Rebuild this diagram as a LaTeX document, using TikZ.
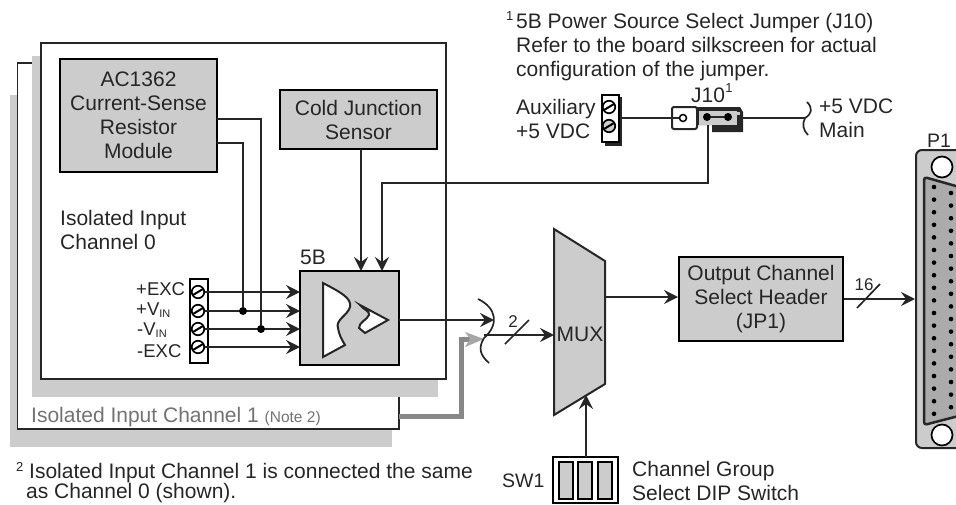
\documentclass[tikz,border=0pt]{standalone}
\usepackage{fontspec}
\setmainfont{Liberation Sans}
\usetikzlibrary{arrows.meta}
\definecolor{boxgray}{HTML}{CCCCCC}
\definecolor{wiregray}{HTML}{888888}
\tikzset{
	every node/.style={inner sep=0pt, font=\fontsize{21}{24}\selectfont, align=center, text=black!85}
}
\tikzset{
	graybox/.style={draw, fill=boxgray, line width=2pt},
	lbl/.style={anchor=west, align=left},
	termlbl/.style={anchor=west, font=\fontsize{18.5}{24}\selectfont},
	wire/.style={line width=1.7pt, black!85},
	tip/.style={-{Stealth[length=14pt,width=14pt,inset=5pt]}},
	screw/.style={circle, draw, fill=white, line width=1.7pt, minimum size=12.5pt},
	dot/.style={circle, fill=black, minimum size=8pt},
	hole/.style={circle, draw, fill=white, line width=1.7pt, minimum size=21pt}
}
\begin{document}
\begin{tikzpicture}[x=1pt, y=-1pt]
	\useasboundingbox (0,0) rectangle (956,504);
	\fill [boxgray] (10,95) rectangle (392,447);
	\draw [wire, fill=white] (399,63) rectangle (17.5,429);
	\fill [boxgray] (32,56) rectangle (438,397);
	\draw [line width=2pt, black!85, fill=white] (41,43) rectangle (446,379);
	\node [graybox, minimum width=157pt, minimum height=113pt] (ac) at (138.5,115.5) {AC1362\\Current-Sense\\Resistor\\Module};
	\node [graybox, minimum width=157pt, minimum height=59pt] (cold) at (358.5,119.5) {Cold Junction\\Sensor};
	\node [lbl] (ch0) at (60,230) {Isolated Input\\Channel 0};
	\node [lbl] (fiveb) at (300,257) {5B};
	\node [graybox, minimum width=99pt, minimum height=94pt] (sig) at (349.5,318) {};
	\node [lbl, text=black!55] (ch1) at (31,417) {Isolated Input Channel 1 \fontsize{15.5}{16}\selectfont(Note 2)};
	\node [draw, fill=white, line width=2pt, minimum width=18pt, minimum height=84pt] (strip) at (199,321) {};
	\foreach \name/\ypos/\ylbl/\xlbl/\txt in {exp/292/289/136/{+EXC}, vp/311/310/136/{+V\textsubscript{\fontsize{11}{11}\selectfont IN}}, vn/329/330/137/{-V\textsubscript{\fontsize{11}{11}\selectfont IN}}, exn/347/351/137/{-EXC}} {
		\node [screw] (s\name) at (198,\ypos) {};
		\draw [line width=2pt] (193,\ypos+3) -- (203,\ypos-3);
		\node [termlbl] (l\name) at (\xlbl,\ylbl) {\txt};
		\coordinate (i\name) at (300,\ypos);
		\draw [wire, tip] (s\name) -- (i\name);
	}
	\coordinate (a1) at (261,119);
	\coordinate (a2) at (243,143);
	\node [dot] (d1) at (261,329) {};
	\node [dot] (d2) at (243,311) {};
	\draw [wire] (217,119) -- (a1) -- (d1);
	\draw [wire] (217,143) -- (a2) -- (d2);
	\coordinate (cin) at (361,271);
	\draw [wire, tip] (361,149) -- (cin);
	\coordinate (pin) at (382,271);
	\coordinate (pa) at (382,183);
	\coordinate (pb) at (708,183);
	\coordinate (pc) at (708,118);
	\draw [wire, tip] (pc) -- (pb) -- (pa) -- (pin);
	\draw [line width=2pt, black!85, fill=white] (323,283) .. controls (340,292) and (352,298) .. (350,307) .. controls (348,315) and (335,320) .. (338,328) .. controls (339,335) and (342,340) .. (345,345) -- (323,357) -- cycle;
	\draw [line width=2.8pt, black!85] (323,283) -- (323,357);
	\draw [line width=2pt, black!85, fill=white] (360,305) -- (388,320) -- (365,333) -- (359,328) .. controls (359,322) and (367,320) .. (369,315) .. controls (370,311) and (364,310) .. cycle;
	\coordinate (sigout) at (399,320);
	\coordinate (join1) at (494,320);
	\draw [wire, tip] (sigout) -- (join1);
	\coordinate (g1) at (399,416);
	\coordinate (g2) at (461,416);
	\coordinate (g3) at (461,339);
	\draw [line width=5pt, wiregray] (g1) -- (g2) -- (g3) -- (470,339);
	\fill [black!35] (484,339) -- (465,332) -- (470,339) -- (465,347) -- cycle;
	\draw [wire] (478,299) .. controls (497,308) and (499,325) .. (484,338);
	\draw [wire] (484,338) .. controls (478,348) and (480,355) .. (489,363);
	\draw [graybox, black!85, fill=boxgray] (554,229) coordinate (m1) -- (605,261) -- (605,384) -- (554,415) coordinate (m2) -- cycle;
	\node (mux) at (580,334) {MUX};
	\coordinate (mi) at (554,335);
	\draw [wire, tip] (484,335) -- (mi);
	\draw [wire] (505,344) -- (529,320);
	\node (two) at (513,322) {\fontsize{17}{17}\selectfont 2};
	\node [graybox, minimum width=164pt, minimum height=84pt] (out) at (761,299) {Output Channel\\Select Header\\(JP1)};
	\draw [wire, tip] (605,297) -- (out.west |- 0,297);
	\coordinate (pl) at (915,299);
	\draw [wire, tip] (out.east |- 0,299) -- (pl);
	\draw [wire] (857,308) -- (880,284);
	\node (sixteen) at (864,285) {\fontsize{17}{17}\selectfont 16};
	\node (pone) at (939,141) {\fontsize{19.5}{20}\selectfont P1};
	\draw [line width=2pt, black!85, fill=boxgray, rounded corners=6pt] (970,150) -- (916,150) -- (916,448) -- (970,448);
	\draw [line width=2.5pt, black!85, fill=black!33, rounded corners=3pt] (970,190) -- (924,177) -- (924,425) -- (970,413);
	\node [hole] (hole1) at (942,167) {};
	\node [hole] (hole2) at (942,435) {};
	\foreach \i in {0,...,18}
		\fill (934,187+12.6*\i) circle (2.3pt);
	\foreach \i in {0,...,17}
		\fill (951,193+12.6*\i) circle (2.3pt);
	\node [draw, fill=white, line width=2pt, minimum width=65pt, minimum height=46pt] (sw) at (585.5,480) {};
	\foreach \xpos in {565.5,585,604.5}
		\node [graybox, minimum width=14pt, minimum height=37pt] (sw\xpos) at (\xpos,480.5) {};
	\coordinate (mb) at (586,395);
	\draw [wire, tip] (586,457) -- (mb);
	\node [lbl] (swl) at (502,481) {\fontsize{19.5}{20}\selectfont SW1};
	\node [lbl] (swt) at (632,481) {Channel Group\\Select DIP Switch};
	\node [lbl] (n1m) at (506,16) {\fontsize{13}{14}\selectfont 1};
	\node [lbl] (n1) at (516,47) {5B Power Source Select Jumper (J10)\\Refer to the board silkscreen for actual\\configuration of the jumper.};
	\node [lbl] (aux) at (516,119) {Auxiliary\\+5 VDC};
	\fill [black!85] (605,97) rectangle (622,146);
	\node [draw, fill=white, line width=2pt, minimum width=17pt, minimum height=47pt] (tb) at (610.5,118) {};
	\node [screw] (tb1) at (609,107) {};
	\draw [line width=2pt] (604,110) -- (614,104);
	\node [screw, fill=black!20] (tb2) at (609,126) {};
	\draw [line width=2pt] (604,129) -- (614,123);
	\node (jten) at (708,95) {J10};
	\node (jtenm) at (729,88) {\fontsize{13}{14}\selectfont 1};
	\fill [black!85] (697,107) -- (740,107) -- (743,112) -- (743,132) -- (712,132) -- (712,125) -- (697,125) -- cycle;
	\draw [line width=2pt, black!85, fill=white, rounded corners=2pt] (672,107) rectangle (697,129);
	\fill [boxgray] (699,111) rectangle (737,125);
	\fill [boxgray] (737,112) rectangle (740,115);
	\node [circle, draw, line width=1.5pt, minimum size=7pt] (j1) at (683,118) {};
	\node [dot] (j2) at (707,117) {};
	\node [dot] (j3) at (728,117) {};
	\draw [line width=2.5pt, black!85] (j2) -- (j3);
	\draw [wire] (tb) -- (j1);
	\coordinate (mainend) at (805,118);
	\draw [wire] (738,118) -- (mainend);
	\draw [wire] (807,102) .. controls (813,108) and (812,114) .. (mainend);
	\draw [wire] (mainend) .. controls (802,124) and (803,130) .. (808,135);
	\node [lbl] (mainl) at (819,118) {+5 VDC\\Main};
	\node [lbl] (n2m) at (16,467) {\fontsize{13}{14}\selectfont 2};
	\node [lbl, font=\fontsize{21}{20}\selectfont] (n2) at (29,483.5) {Isolated Input Channel 1 is connected the same\\\hspace*{-3pt}as Channel 0 (shown).};
\end{tikzpicture}
\end{document}
